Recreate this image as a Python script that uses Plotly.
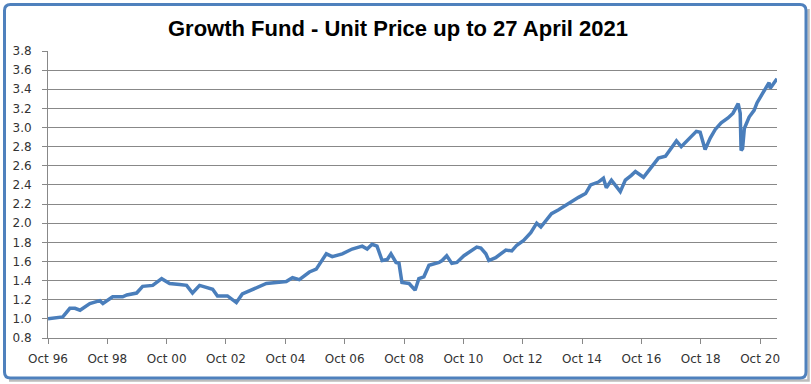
import plotly.graph_objects as go

dates = [
    "1996-10-01", "1997-02-24", "1997-04-01", "1997-06-27", "1997-08-29", "1997-10-30",
    "1998-02-28", "1998-07-01", "1998-08-08", "1998-12-06", "1999-04-08", "1999-05-30",
    "1999-09-27", "1999-12-10", "2000-04-12", "2000-07-31", "2000-11-06", "2001-03-10",
    "2001-06-03", "2001-08-15", "2001-11-10", "2002-04-20", "2002-06-18", "2002-10-19",
    "2003-02-06", "2003-04-20", "2003-08-22", "2004-02-10", "2004-06-13", "2004-10-12",
    "2004-12-28", "2005-03-22", "2005-07-24", "2005-10-16", "2006-02-17", "2006-05-01",
    "2006-09-02", "2007-01-01", "2007-05-05", "2007-07-05", "2007-09-03", "2007-11-03",
    "2008-01-05", "2008-03-08", "2008-04-23", "2008-06-24", "2008-07-31", "2008-09-05",
    "2008-12-02", "2009-02-14", "2009-04-01", "2009-06-02", "2009-08-04", "2009-12-06",
    "2010-01-12", "2010-03-10", "2010-05-12", "2010-07-13", "2010-10-08", "2011-01-15",
    "2011-03-15", "2011-05-05", "2011-07-05", "2011-08-11", "2011-11-03", "2012-03-07",
    "2012-05-19", "2012-07-20", "2012-10-12", "2013-01-08", "2013-03-22", "2013-05-12",
    "2013-07-09", "2013-09-20", "2013-12-17", "2014-04-20", "2014-08-19", "2014-11-14",
    "2015-01-15", "2015-04-20", "2015-06-21", "2015-07-27", "2015-09-28", "2016-01-15",
    "2016-03-17", "2016-05-30", "2016-07-19", "2016-10-27", "2017-02-03", "2017-04-28",
    "2017-07-24", "2017-10-05", "2017-12-06", "2018-02-03", "2018-05-01", "2018-08-08",
    "2018-09-24", "2018-11-24", "2019-01-26", "2019-03-29", "2019-06-10", "2019-09-02",
    "2019-11-03", "2020-01-05", "2020-01-30", "2020-02-10", "2020-02-28", "2020-03-21",
    "2020-05-19", "2020-07-19", "2020-08-25", "2020-10-01", "2020-12-02", "2021-01-19",
    "2021-02-03", "2021-04-27",
]

unit_price = [
    1.00, 1.01, 1.02, 1.11, 1.11, 1.09,
    1.16, 1.19, 1.16, 1.23, 1.23, 1.25,
    1.27, 1.34, 1.35, 1.42, 1.37, 1.36,
    1.35, 1.27, 1.35, 1.31, 1.24, 1.24,
    1.17, 1.26, 1.31, 1.37, 1.38, 1.39,
    1.43, 1.41, 1.49, 1.52, 1.68, 1.65,
    1.68, 1.73, 1.76, 1.73, 1.78, 1.76,
    1.61, 1.62, 1.68, 1.59, 1.58, 1.38,
    1.37, 1.30, 1.42, 1.44, 1.56, 1.59,
    1.61, 1.66, 1.58, 1.59, 1.66, 1.71,
    1.75, 1.74, 1.68, 1.61, 1.64, 1.72,
    1.71, 1.77, 1.82, 1.90, 2.00, 1.96,
    2.02, 2.10, 2.14, 2.21, 2.27, 2.31,
    2.40, 2.43, 2.47, 2.37, 2.45, 2.33,
    2.45, 2.50, 2.54, 2.48, 2.59, 2.68,
    2.70, 2.79, 2.86, 2.80, 2.87, 2.96,
    2.95, 2.77, 2.89, 2.98, 3.05, 3.10,
    3.15, 3.25, 3.15, 2.76, 2.78, 2.99,
    3.11, 3.18, 3.26, 3.31, 3.41, 3.47,
    3.41, 3.51,
]

title_text = "Growth Fund - Unit Price up to 27 April 2021"

W, H = 811, 384
L, R, T, B = 48, 777, 51, 338  # plot area in pixels


def px(x):
    return (x - L) / (R - L)


def py(y):
    return (B - y) / (B - T)


def rounded_rect(x0, y0, x1, y1, r):
    return (
        f"M {px(x0 + r)} {py(y0)} L {px(x1 - r)} {py(y0)} "
        f"Q {px(x1)} {py(y0)} {px(x1)} {py(y0 + r)} "
        f"L {px(x1)} {py(y1 - r)} Q {px(x1)} {py(y1)} {px(x1 - r)} {py(y1)} "
        f"L {px(x0 + r)} {py(y1)} Q {px(x0)} {py(y1)} {px(x0)} {py(y1 - r)} "
        f"L {px(x0)} {py(y0 + r)} Q {px(x0)} {py(y0)} {px(x0 + r)} {py(y0)} Z"
    )


fig = go.Figure()
fig.add_trace(go.Scatter(
    x=dates, y=unit_price, mode="lines",
    line=dict(color="#4A7EBB", width=3.5),
    hoverinfo="skip", showlegend=False,
))

grid = "#888888"
tickfont = dict(family="DejaVu Sans, Verdana, sans-serif", size=12, color="#333333")

fig.update_layout(
    width=W, height=H,
    margin=dict(l=L, r=W - R, t=T, b=H - B, autoexpand=False),
    paper_bgcolor="white", plot_bgcolor="white",
    title=dict(
        text=f"<b>{title_text}</b>",
        x=398 / W, xanchor="center", xref="container",
        y=1 - 28 / H, yanchor="middle", yref="container",
        font=dict(family="Liberation Sans Narrow, Liberation Sans, Arial, sans-serif",
                  size=22, color="#000000"),
    ),
    xaxis=dict(
        type="date",
        range=["1996-10-01", "2021-04-27"],
        tick0="1996-10-01", dtick="M24", tickformat="%b %y",
        showgrid=False, showline=True, linecolor=grid, linewidth=1,
        ticks="outside", ticklen=5, tickcolor=grid, tickwidth=1,
        tickfont=tickfont, ticklabelstandoff=5,
        zeroline=False, fixedrange=True,
    ),
    yaxis=dict(
        range=[0.8, 3.8], tick0=0.8, dtick=0.2, tickformat=".1f",
        showgrid=True, gridcolor=grid, gridwidth=1,
        showline=True, linecolor=grid, linewidth=1,
        ticks="outside", ticklen=5, tickcolor=grid, tickwidth=1,
        tickfont=tickfont, ticklabelstandoff=8,
        zeroline=False, fixedrange=True,
    ),
    shapes=[
        dict(type="path", xref="paper", yref="paper", layer="below",
             path=f"M {px(808.5)} {py(9)} L {px(808.5)} {py(380.5)} L {px(9)} {py(380.5)}",
             line=dict(color="#bcbcbc", width=2.5)),
        dict(type="path", xref="paper", yref="paper", layer="below",
             path=rounded_rect(4.5, 4.5, 806, 378, 6),
             line=dict(color="#4F81BD", width=3)),
    ],
)

fig.write_html("out.html", config={"displayModeBar": False},
               post_script="document.body.style.margin='0';")
